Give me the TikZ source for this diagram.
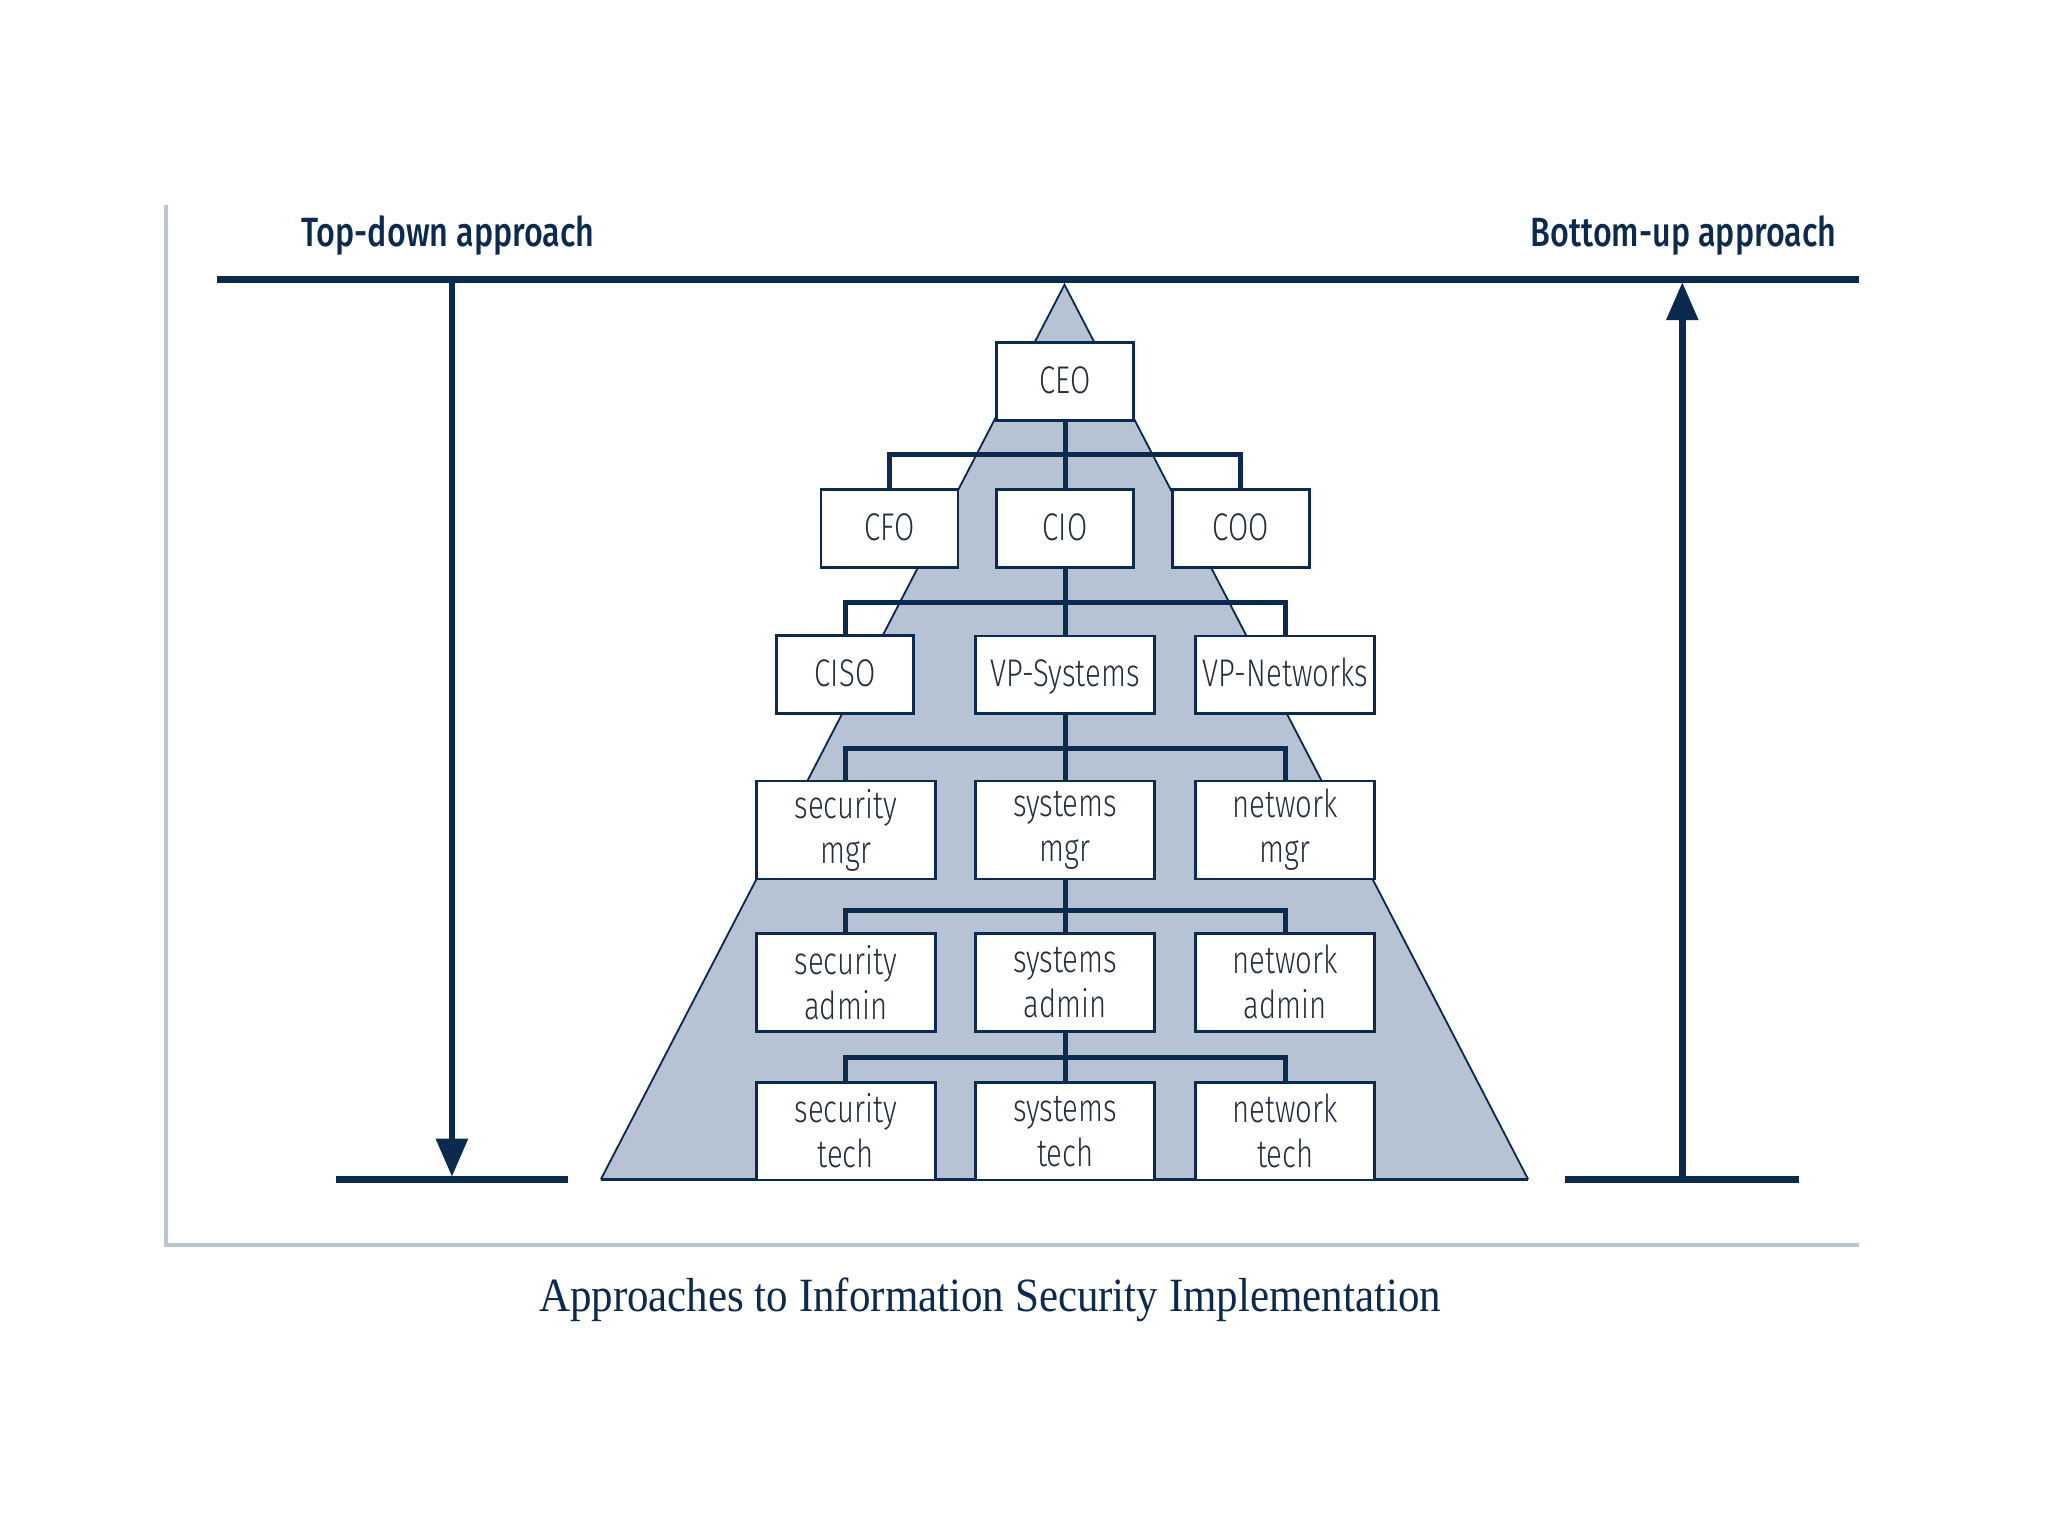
\documentclass[tikz,border=0pt]{standalone}
\usepackage{fontspec}
\usepackage{xcolor}
\usepackage{tikz}
\usetikzlibrary{arrows.meta}
\newfontfamily\boxfont[FakeStretch=0.76]{Fira Sans Light}
\newfontfamily\headfont[FakeStretch=0.79]{Fira Sans Medium}
\newfontfamily\capfont[FakeStretch=0.90]{Liberation Serif}
\definecolor{navy}{RGB}{10,42,80}
\definecolor{pyrfill}{RGB}{181,195,212}
\definecolor{framegray}{RGB}{185,197,211}
\definecolor{boxtext}{RGB}{35,45,62}
\tikzset{
  post/.style={
    draw=navy,
    fill=white,
    line width=0.6pt,
    minimum width=1.05cm,
    minimum height=0.6cm,
    inner sep=1pt,
    align=center,
    text=boxtext,
    text height=6.8pt,
    text depth=1.4pt,
    font=\boxfont\fontsize{8.4}{9.8}\selectfont
  },
  widepost/.style={
    post,
    minimum width=1.37cm
  },
  tallpost/.style={
    widepost,
    text height=,
    text depth=,
    minimum height=0.75cm
  },
  link/.style={
    draw=navy,
    line width=1.1pt
  },
  barline/.style={
    draw=navy,
    line width=1.6pt
  },
  approach/.style={
    text=navy,
    font=\headfont\fontsize{8.9}{10}\selectfont
  }
}

\begin{document}
\begin{tikzpicture}[x=1cm, y=1cm]
  \useasboundingbox (0,0) rectangle (15.68,-11.76);

  \coordinate (F1) at (1.27,-1.57);
  \coordinate (F2) at (1.27,-9.53);
  \coordinate (F3) at (14.23,-9.53);
  \draw[framegray, line width=0.9pt] (F1) -- (F2) -- (F3);

  \coordinate (apex) at (8.15,-2.18);
  \coordinate (baseL) at (4.60,-9.03);
  \coordinate (baseR) at (11.70,-9.03);
  \fill[pyrfill] (apex) -- (baseL) -- (baseR) -- cycle;
  \draw[navy, line width=0.4pt] (baseL) -- (apex) -- (baseR);
  \draw[navy, line width=0.8pt] (baseL) -- (baseR);

  \coordinate (T1) at (1.66,-2.14);
  \coordinate (T2) at (14.23,-2.14);
  \draw[barline] (T1) -- (T2);

  \coordinate (BL1) at (2.57,-9.03);
  \coordinate (BL2) at (4.35,-9.03);
  \coordinate (BR1) at (11.98,-9.03);
  \coordinate (BR2) at (13.77,-9.03);
  \draw[barline] (BL1) -- (BL2);
  \draw[barline] (BR1) -- (BR2);

  \coordinate (TD1) at (3.46,-2.14);
  \coordinate (TD2) at (3.46,-9.01);
  \coordinate (BU1) at (12.88,-9.03);
  \coordinate (BU2) at (12.88,-2.16);
  \draw[barline, line width=1.45pt, -{Triangle[length=8.3pt,width=6.7pt]}] (TD1) -- (TD2);
  \draw[barline, line width=1.45pt, -{Triangle[length=8.3pt,width=6.7pt]}] (BU1) -- (BU2);

  \node[approach] (topdown) at (3.43,-1.80) {Top-down approach};
  \node[approach] (bottomup) at (12.89,-1.80) {Bottom-up approach};

  \node[post] (ceo) at (8.155,-2.92) {CEO};

  \node[post] (cfo) at (6.81,-4.045) {CFO};
  \node[post] (cio) at (8.155,-4.045) {CIO};
  \node[post] (coo) at (9.50,-4.045) {COO};

  \node[post] (ciso) at (6.47,-5.165) {CISO};
  \node[widepost, minimum height=0.59cm] (vpsys) at (8.155,-5.165) {VP-Systems};
  \node[widepost, minimum height=0.59cm] (vpnet) at (9.84,-5.165) {VP-Networks};

  \node[tallpost] (secmgr) at (6.475,-6.355) {security\\mgr};
  \node[tallpost] (sysmgr) at (8.155,-6.355) {systems\\mgr};
  \node[tallpost] (netmgr) at (9.84,-6.355) {network\\mgr};

  \node[tallpost] (secadm) at (6.475,-7.52) {security\\admin};
  \node[tallpost] (sysadm) at (8.155,-7.52) {systems\\admin};
  \node[tallpost] (netadm) at (9.84,-7.52) {network\\admin};

  \node[tallpost] (sectech) at (6.475,-8.66) {security\\tech};
  \node[tallpost] (systech) at (8.155,-8.66) {systems\\tech};
  \node[tallpost] (nettech) at (9.84,-8.66) {network\\tech};

  \coordinate (J1) at (8.155,-3.48);
  \draw[link] (ceo.south) -- (J1);
  \draw[link] (J1) -| (cfo.north);
  \draw[link] (J1) -- (cio.north);
  \draw[link] (J1) -| (coo.north);

  \coordinate (J2) at (8.155,-4.61);
  \draw[link] (cio.south) -- (J2);
  \draw[link] (J2) -| (ciso.north);
  \draw[link] (J2) -- (vpsys.north);
  \draw[link] (J2) -| (vpnet.north);

  \coordinate (J3) at (8.155,-5.73);
  \draw[link] (vpsys.south) -- (J3);
  \draw[link] (J3) -| (secmgr.north);
  \draw[link] (J3) -- (sysmgr.north);
  \draw[link] (J3) -| (netmgr.north);

  \coordinate (J4) at (8.155,-6.97);
  \draw[link] (sysmgr.south) -- (J4);
  \draw[link] (J4) -| (secadm.north);
  \draw[link] (J4) -- (sysadm.north);
  \draw[link] (J4) -| (netadm.north);

  \coordinate (J5) at (8.155,-8.10);
  \draw[link] (sysadm.south) -- (J5);
  \draw[link] (J5) -| (sectech.north);
  \draw[link] (J5) -- (systech.north);
  \draw[link] (J5) -| (nettech.north);

  \node[text=navy, font=\capfont\fontsize{10.4}{12}\selectfont] (caption) at (7.58,-9.95)
    {Approaches to Information Security Implementation};
\end{tikzpicture}
\end{document}
